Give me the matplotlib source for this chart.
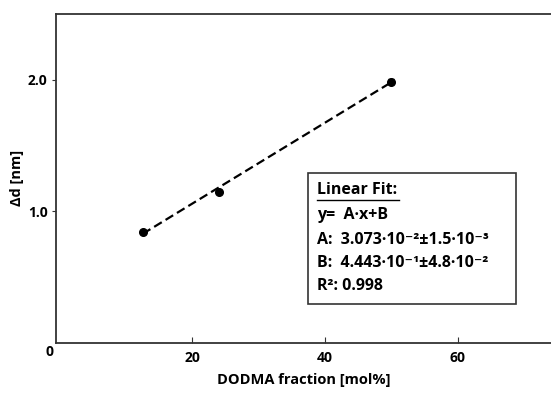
import matplotlib.pyplot as plt
from matplotlib.patches import Rectangle
from matplotlib.lines import Line2D

plt.rcParams['font.family'] = ['Open Sans', 'DejaVu Sans']
plt.rcParams['font.weight'] = 'bold'

# DODMA fraction vs. bilayer thickness change
frac = [12.5, 24, 50]
dd = [0.84, 1.15, 1.985]
dd_err = [0.015, 0.015, 0.02]

# linear fit parameters
A = 3.073e-2
B = 4.443e-1

fig = plt.figure(figsize=(5.51, 3.96), dpi=100)
ax = fig.add_axes([0.1016, 0.1346, 0.8984, 0.83])

fit_x = [frac[0], frac[-1]]
fit_y = [A * x + B for x in fit_x]
ax.plot(fit_x, fit_y, ls=(0, (4, 2)), color='black', lw=1.6)
ax.errorbar(frac, dd, yerr=dd_err, fmt='o', color='black', ms=5.5, capsize=2, elinewidth=1)

ax.set_xlim(-0.6, 74.1)
ax.set_ylim(0, 2.5)
ax.set_xticks([20, 40, 60])
ax.set_yticks([1.0, 2.0])
ax.set_yticklabels(['1.0', '2.0'])
ax.tick_params(axis='x', direction='in', length=4, labelsize=10, pad=6, color='#333333')
ax.tick_params(axis='y', direction='out', length=3, labelsize=10, pad=3, color='#333333')
for s in ['left', 'bottom', 'top']:
    ax.spines[s].set_color('#333333')
    ax.spines[s].set_linewidth(1.3)
ax.spines['right'].set_visible(False)
for lab in ax.get_xticklabels() + ax.get_yticklabels():
    lab.set_fontweight('bold')

fig.text(50 / 551, 1 - 352 / 396, '0', fontsize=10, fontweight='bold', ha='center', va='center')
ax.set_xlabel('DODMA fraction [mol%]', fontsize=10.5, fontweight='bold', labelpad=6)
ax.set_ylabel('Δd [nm]', fontsize=10.5, fontweight='bold', labelpad=3)

# fit result box
W, H = 551, 396
fig.patches.append(Rectangle((308 / W, 1 - 304 / H), 208 / W, 131 / H, transform=fig.transFigure,
                             fill=False, edgecolor='#333333', lw=1.2))
lines = ['Linear Fit:', 'y=  A·x+B', 'A:  3.073·10⁻²±1.5·10⁻³',
         'B:  4.443·10⁻¹±4.8·10⁻²', 'R²: 0.998']
ys = [190, 215, 240, 263, 286]
for t, y in zip(lines, ys):
    fig.text(317 / W, 1 - y / H, t, fontsize=11.5, fontweight='bold', ha='left', va='center')
fig.lines.append(Line2D([317 / W, 399 / W], [1 - 200 / H, 1 - 200 / H], transform=fig.transFigure,
                        color='black', lw=1))

fig.savefig('out.png', dpi=100)
